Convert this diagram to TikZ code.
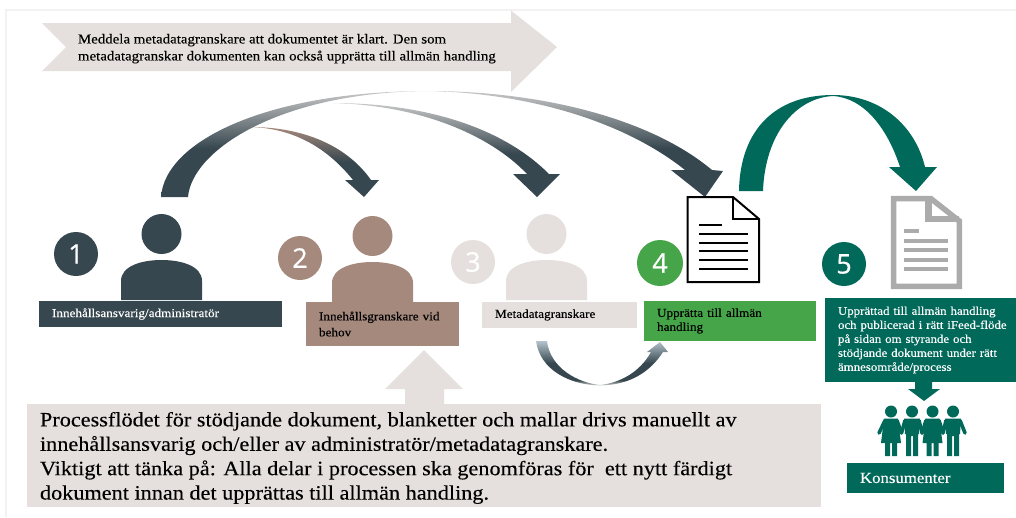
\documentclass[tikz,border=0pt]{standalone}
\usepackage{fontspec}
\setmainfont[FakeStretch=1.09,FakeBold=0.2]{Liberation Serif}
\newfontfamily\digitfont[FakeBold=0.6]{Open Sans}
\usetikzlibrary{calc,positioning}
\definecolor{slate}{HTML}{37474F}
\definecolor{taupe}{HTML}{A5897D}
\definecolor{sand}{HTML}{E5E0DD}
\definecolor{leaf}{HTML}{46A548}
\definecolor{pine}{HTML}{00695A}
\definecolor{mist}{HTML}{B5C4CC}
\pgfdeclareverticalshading{arcfade}{100bp}{color(0bp)=(slate); color(48bp)=(slate); color(75bp)=(black!22); color(100bp)=(black!22)}
\pgfdeclareverticalshading{arcfadetaupe}{100bp}{color(0bp)=(slate); color(50bp)=(slate); color(75bp)=(taupe); color(100bp)=(taupe)}
\pgfdeclareverticalshading{bowlfade}{100bp}{color(0bp)=(black!15); color(25bp)=(black!15); color(31bp)=(slate); color(50bp)=(slate); color(75bp)=(mist); color(100bp)=(mist)}
\tikzstyle{every node}+=[inner sep=0mm,outer sep=0mm]
\tikzstyle{stepnum}=[circle,minimum size=44pt,text=white,font=\digitfont\fontsize{27}{27}\selectfont]
\tikzstyle{rolebox}=[anchor=north west,align=left,inner xsep=13pt,font=\fontsize{12.1}{14}\selectfont]
\tikzstyle{bigtext}=[anchor=north west,align=left,font=\fontsize{20.4}{24.4}\selectfont]
\begin{document}
\begin{tikzpicture}[x=1pt,y=-1pt]
    \useasboundingbox (0,0) rectangle (1016,517);

    % person: #1 = centre x, #2 = head y, #3 = colour
    \newcommand{\person}[3]{
        \fill[#3] (#1,#2) circle (20);
        \fill[#3] ({#1-40.5},{#2+66}) -- ({#1-40.5},{#2+47})
            .. controls ({#1-40.5},{#2+32}) and ({#1-20},{#2+26}) .. (#1,{#2+26})
            .. controls ({#1+20},{#2+26}) and ({#1+40.5},{#2+32}) .. ({#1+40.5},{#2+47})
            -- ({#1+40.5},{#2+66}) -- cycle;
    }
    % one figure of the group, #1 = centre x
    \newcommand{\groupman}[1]{
        \fill[pine] (#1,411.5) circle (6);
        \fill[pine] ({#1-8},418.5) -- ({#1+8},418.5) -- ({#1+7},434) -- ({#1+6},434) -- ({#1+6},456)
            -- ({#1+1},456) -- ({#1+1},436) -- ({#1-1},436) -- ({#1-1},456) -- ({#1-6},456)
            -- ({#1-6},434) -- ({#1-7},434) -- cycle;
    }
    \newcommand{\groupwoman}[1]{
        \fill[pine] (#1,411.5) circle (6);
        \fill[pine] ({#1-7},418.5) -- ({#1+7},418.5) -- ({#1+10},443) -- ({#1+6},443) -- ({#1+6},456)
            -- ({#1+1},456) -- ({#1+1},443) -- ({#1-1},443) -- ({#1-1},456) -- ({#1-6},456)
            -- ({#1-6},443) -- ({#1-10},443) -- cycle;
    }

    % frame
    \draw[line width=2pt,color=black!5] (6,517) -- (6,9.5) -- (1016,9.5);

    % top banner
    \fill[sand] (42,23) -- (511,23) -- (511,10.5) -- (557,47) -- (511,92) -- (511,71)
        -- (42,71) -- (66,47) -- cycle;
    \node[anchor=north west,align=left,font=\fontsize{13.65}{17}\selectfont] (banner) at (78,34)
        {Meddela metadatagranskare att dokumentet är klart. Den som\\
         metadatagranskar dokumenten kan också upprätta till allmän handling};

    % big curved arrows from person 1
    \shade[shading=arcfade]
        (161,197) .. controls (165,140) and (270,91) .. (428,91)
        .. controls (540,91) and (650,118) .. (712,170) -- (723,171) -- (705,197) -- (671,170) -- (685,170)
        .. controls (625,122) and (530,93) .. (428,91)
        .. controls (280,92) and (192,150) .. (188,197) -- cycle;
    \shade[shading=arcfade]
        (332,103) .. controls (420,103) and (500,125) .. (549,174) -- (560,174) -- (537,197) -- (513,174) -- (527,174)
        .. controls (490,135) and (420,105) .. (332,103) -- cycle;
    \shade[shading=arcfadetaupe]
        (250,127) .. controls (310,127) and (350,150) .. (371,180) -- (379,180) -- (364,197) -- (345,180) -- (353,180)
        .. controls (325,145) and (290,128) .. (250,127) -- cycle;

    % green arrow
    \shade[left color=pine,middle color=pine!75!black,right color=pine]
        (739,191) .. controls (740,130) and (775,95) .. (833,95)
        .. controls (880,95) and (915,125) .. (925,167) -- (937,167) -- (916,191) -- (889,167) -- (900,167)
        .. controls (888,130) and (865,98) .. (833,96)
        .. controls (795,98) and (765,135) .. (763,191) -- cycle;

    % persons
    \person{161.5}{234}{slate}
    \person{372.5}{236}{taupe}
    \person{546.5}{234}{sand}

    % step numbers
    \node[stepnum,fill=slate] (one) at (76,254) {1};
    \node[stepnum,fill=taupe] (two) at (300,258) {2};
    \node[stepnum,fill=sand] (three) at (473,262) {3};
    \node[stepnum,fill=leaf,minimum size=46pt] (four) at (660,263) {4};
    \node[stepnum,fill=pine] (five) at (844,264) {5};

    % black document
    \draw[line width=2pt,fill=white] (687.5,197) -- (733,197) -- (759,219) -- (759,282) -- (687.5,282) -- cycle;
    \draw[line width=2pt] (733,197) -- (733,219) -- (759,219);
    \draw[line width=2pt] (699,225) -- (722,225);
    \foreach \y in {233.5,242.5,251,260,269}
        \draw[line width=2pt] (699,\y) -- (748,\y);

    % grey document
    \draw[line width=5.5pt,color=black!33,fill=white] (893.7,198.7) -- (931,198.7) -- (959.3,221) -- (959.3,286.3) -- (893.7,286.3) -- cycle;
    \draw[line width=6.5pt,color=black!33] (928.5,198) -- (928.5,219) -- (959,219);
    \draw[line width=4pt,color=black!33] (904,231) -- (919,231);
    \foreach \y in {240.7,250,259.5,268.7}
        \draw[line width=4pt,color=black!33] (904,\y) -- (948,\y);

    % role boxes
    \node[rolebox,fill=slate,text=white,minimum width=243pt,minimum height=26pt,text width=217pt] (admin) at (39,301)
        {Innehållsansvarig/administratör};
    \node[rolebox,fill=taupe,minimum width=153pt,minimum height=44pt,text width=127pt,
        font=\fontsize{12.1}{16}\selectfont] (reviewer) at (306,302)
        {Innehållsgranskare vid\\behov};
    \node[rolebox,fill=sand,minimum width=155pt,minimum height=26pt,text width=129pt] (metareviewer) at (482,302)
        {Metadatagranskare};
    \node[rolebox,fill=leaf,minimum width=172pt,minimum height=40pt,text width=146pt] (publish) at (644,301)
        {Upprätta till allmän\\handling};
    \node[rolebox,fill=pine,text=white,minimum width=191pt,minimum height=84pt,text width=165pt,
        font=\fontsize{11.8}{14}\selectfont] (published) at (825,298)
        {Upprättad till allmän handling\\\mbox{och publicerad i rätt iFeed-flöde}\\på sidan om styrande och\\\mbox{stödjande dokument under rätt}\\ämnesområde/process};

    % small arrow from 3 to 4
    \shade[shading=bowlfade]
        (536,341) .. controls (540,370) and (570,385) .. (600,385.5)
        .. controls (630,385) and (650,372) .. (663,352) -- (668,352) -- (660,342) -- (647,352) -- (651,352)
        .. controls (640,372) and (620,383) .. (600,385)
        .. controls (578,383) and (550,368) .. (547,341) -- cycle;

    % note with arrow up
    \fill[sand] (405,405) -- (405,389) -- (385,389) -- (424,350) -- (463,389) -- (444,389) -- (444,405) -- cycle;
    \fill[sand] (27,404) rectangle (821,507);
    \node[bigtext] (note) at (40,412)
        {Processflödet för stödjande dokument, blanketter och mallar drivs manuellt av\\
         innehållsansvarig och/eller av administratör/metadatagranskare.\\
         Viktigt att tänka på: Alla delar i processen ska genomföras för\ \ ett nytt färdigt\\
         dokument innan det upprättas till allmän handling.};

    % arrow down to consumers
    \fill[pine] (915,382) -- (932,382) -- (932,389) -- (940,389) -- (924,401) -- (908,389) -- (915,389) -- cycle;

    % group
    \groupwoman{891}
    \groupman{912}
    \groupwoman{932.5}
    \groupman{953}
    \foreach \xa/\xb in {885/879,897/901.5,905/901.5,919/922,926/922,939/943,946/943,960/965}
        \draw[pine,line width=3.6pt,line cap=round] (\xa,420.5) -- (\xb,433);

    \node[rolebox,fill=pine,text=white,minimum width=157pt,minimum height=30pt,text width=131pt,
        font=\fontsize{15.4}{17}\selectfont] (consumers) at (847,463) {Konsumenter};
\end{tikzpicture}
\end{document}
